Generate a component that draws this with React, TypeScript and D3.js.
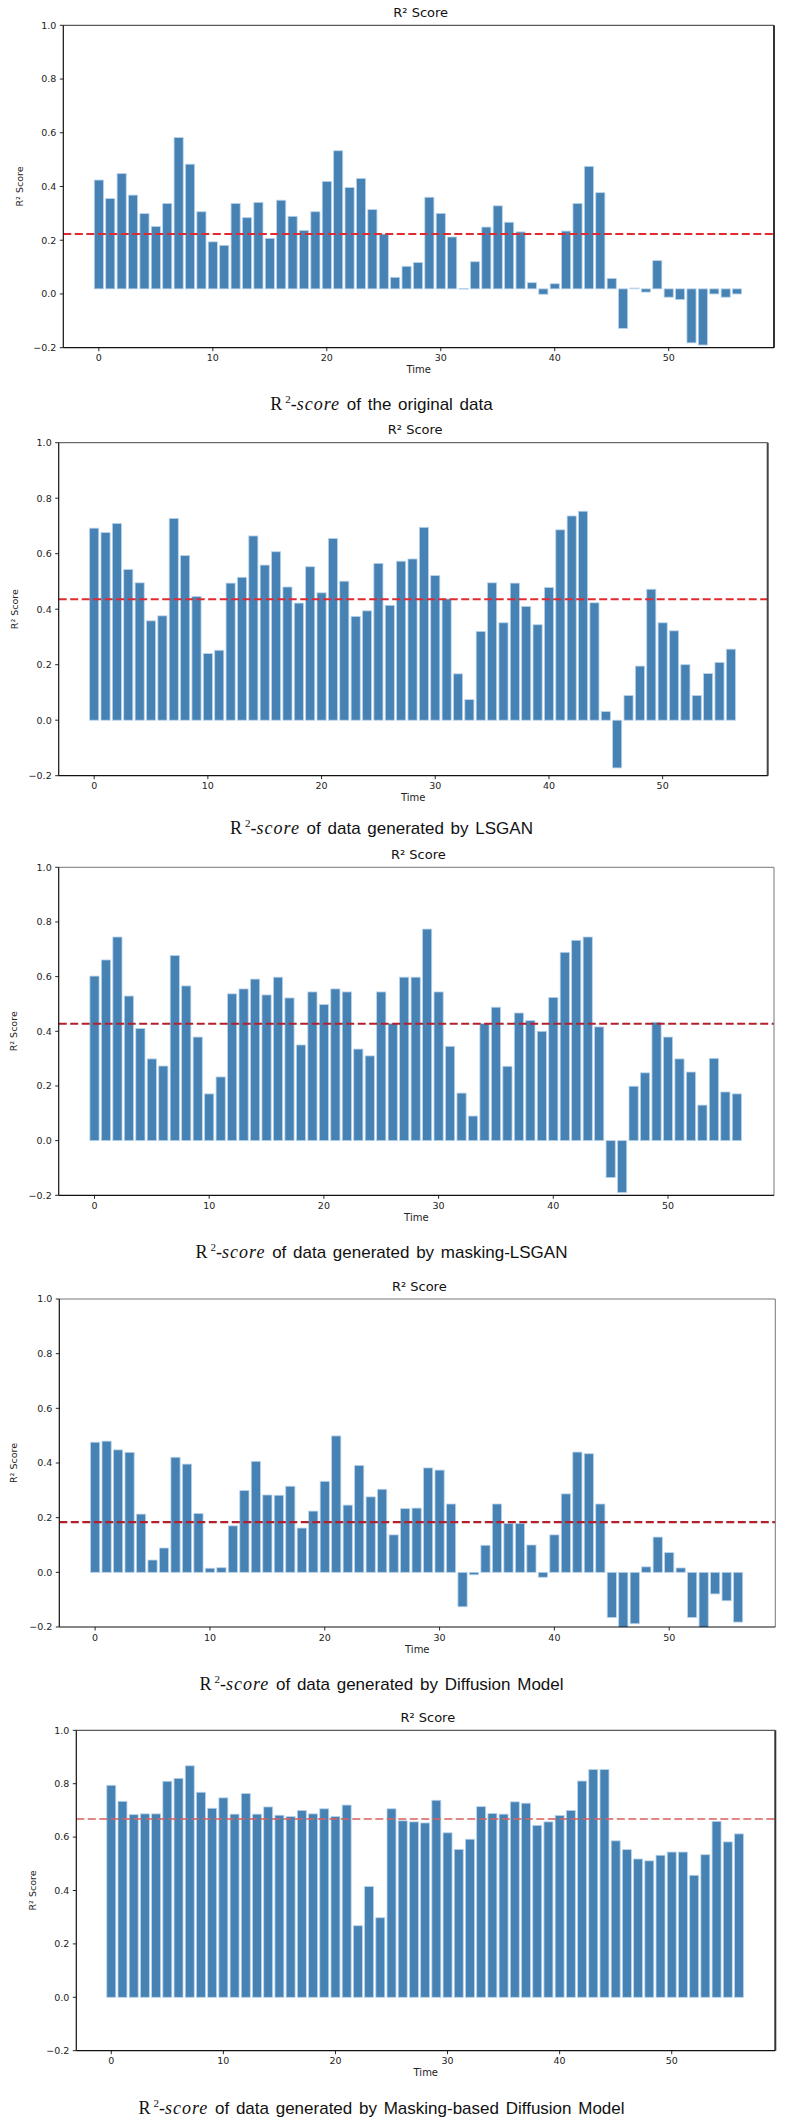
import React from "react";
import * as d3 from "d3";

// time steps 0..56
const timeSteps = d3.range(57);

const originalScores = [
  0.424, 0.355, 0.448, 0.368, 0.299, 0.251, 0.337, 0.582, 0.483, 0.306,
  0.194, 0.181, 0.337, 0.284, 0.341, 0.207, 0.349, 0.289, 0.236, 0.306,
  0.419, 0.533, 0.396, 0.43, 0.314, 0.223, 0.062, 0.103, 0.117, 0.36,
  0.3, 0.212, 0.021, 0.12, 0.249, 0.328, 0.267, 0.231, 0.042, -0.001,
  0.038, 0.234, 0.337, 0.475, 0.377, 0.058, -0.128, 0.022, 0.007, 0.124,
  -0.012, -0.021, -0.182, -0.19, 0.0, -0.012, 0.0,
];

const lsganScores = [
  0.692, 0.676, 0.709, 0.543, 0.495, 0.358, 0.376, 0.727, 0.593, 0.446,
  0.24, 0.252, 0.494, 0.515, 0.664, 0.559, 0.607, 0.48, 0.422, 0.553,
  0.459, 0.655, 0.501, 0.374, 0.394, 0.565, 0.414, 0.573, 0.581, 0.695,
  0.521, 0.437, 0.167, 0.074, 0.32, 0.495, 0.351, 0.494, 0.41, 0.344,
  0.478, 0.686, 0.736, 0.753, 0.423, 0.031, -0.172, 0.089, 0.195, 0.472,
  0.351, 0.322, 0.2, 0.089, 0.168, 0.208, 0.256,
];

const maskingLsganScores = [
  0.602, 0.661, 0.745, 0.529, 0.41, 0.299, 0.273, 0.677, 0.566, 0.379,
  0.171, 0.233, 0.537, 0.555, 0.591, 0.533, 0.598, 0.522, 0.35, 0.544,
  0.498, 0.555, 0.544, 0.335, 0.31, 0.544, 0.429, 0.598, 0.598, 0.774,
  0.544, 0.345, 0.174, 0.09, 0.428, 0.488, 0.272, 0.467, 0.439, 0.4,
  0.524, 0.689, 0.733, 0.745, 0.416, -0.135, -0.19, 0.199, 0.248, 0.433,
  0.379, 0.299, 0.251, 0.13, 0.301, 0.178, 0.171,
];

const diffusionScores = [
  0.476, 0.48, 0.448, 0.439, 0.213, 0.045, 0.089, 0.421, 0.396, 0.215,
  0.015, 0.017, 0.17, 0.299, 0.406, 0.283, 0.282, 0.315, 0.162, 0.224,
  0.333, 0.499, 0.246, 0.391, 0.276, 0.304, 0.137, 0.233, 0.235, 0.382,
  0.374, 0.25, -0.126, -0.009, 0.099, 0.25, 0.179, 0.179, 0.1, -0.018,
  0.137, 0.287, 0.44, 0.434, 0.25, -0.165, -0.205, -0.188, 0.02, 0.129,
  0.072, 0.016, -0.165, -0.202, -0.079, -0.104, -0.182,
];

const maskingDiffusionScores = [
  0.794, 0.734, 0.684, 0.687, 0.687, 0.809, 0.82, 0.867, 0.768, 0.708,
  0.747, 0.686, 0.763, 0.686, 0.713, 0.682, 0.677, 0.7, 0.687, 0.706,
  0.677, 0.72, 0.268, 0.415, 0.298, 0.706, 0.661, 0.657, 0.653, 0.738,
  0.616, 0.554, 0.592, 0.714, 0.688, 0.686, 0.732, 0.727, 0.644, 0.657,
  0.681, 0.7, 0.81, 0.853, 0.853, 0.586, 0.553, 0.518, 0.511, 0.532,
  0.544, 0.544, 0.457, 0.534, 0.659, 0.582, 0.612,
];

// dashed reference lines (mean R² of each run)
const meanLines = [0.223, 0.436, 0.428, 0.184, 0.668];

const captions = [
  "of the original data",
  "of data generated by LSGAN",
  "of data generated by masking-LSGAN",
  "of data generated by Diffusion Model",
  "of data generated by Masking-based Diffusion Model",
];

const yTicks = [-0.2, 0, 0.2, 0.4, 0.6, 0.8, 1.0];
const xTicks = [0, 10, 20, 30, 40, 50];

// layout of each panel on the page
const panels = [
  { data: originalScores, left: 63.3, right: 774, top: 25.3, bottom: 347.7, base: 0.019, labelX: 19.5, capY: 404, rightW: 2, frame: "#333", line: "#e02a30", lineW: 2 },
  { data: lsganScores, left: 58.7, right: 767.7, top: 442.7, bottom: 775.7, base: 0, labelX: 14.3, capY: 828, rightW: 2, frame: "#444", line: "#e02a30", lineW: 2 },
  { data: maskingLsganScores, left: 58.7, right: 774, top: 867.3, bottom: 1195.3, base: 0, labelX: 13.3, capY: 1251.7, rightW: 1, frame: "#777", line: "#b3202c", lineW: 2 },
  { data: diffusionScores, left: 59.3, right: 775.3, top: 1299, bottom: 1627, base: 0, labelX: 14, capY: 1684, rightW: 1, frame: "#777", line: "#b3202c", lineW: 2.2 },
  { data: maskingDiffusionScores, left: 76.3, right: 775.3, top: 1730.3, bottom: 2050.7, base: 0, labelX: 33, capY: 2108, rightW: 2, frame: "#333", line: "#d9605c", lineW: 1.6 },
];

const mplFont = "'DejaVu Sans', Verdana, sans-serif";
const fmtY = (v: number) => (v < 0 ? "\u2212" : "") + Math.abs(v).toFixed(1);

const Panel: React.FC<{ idx: number }> = ({ idx }) => {
  const p = panels[idx];
  const x = d3.scaleLinear().domain([-3.12, 59.24]).range([p.left, p.right]);
  const y = d3.scaleLinear().domain([-0.2, 1.0]).range([p.bottom, p.top]);
  const bw = x(0.8) - x(0);
  const clipId = `clip-${idx}`;
  const midX = (p.left + p.right) / 2;

  return (
    <g>
      <defs>
        <clipPath id={clipId}>
          <rect x={p.left} y={p.top} width={p.right - p.left} height={p.bottom - p.top} />
        </clipPath>
      </defs>
      <text x={midX + 2} y={p.top - 8.5} textAnchor="middle" fontFamily={mplFont} fontSize={13} fill="#111">
        R² Score
      </text>
      <g clipPath={`url(#${clipId})`}>
        {timeSteps.map((t) => {
          const v = p.data[t];
          const y0 = y(p.base);
          const y1 = y(v);
          return (
            <rect
              key={t}
              x={x(t) - bw / 2}
              y={Math.min(y0, y1)}
              width={bw}
              height={Math.max(Math.abs(y1 - y0), 0.8)}
              fill="#4682b4"
              stroke="#b9d3ea"
              strokeWidth={0.8}
            />
          );
        })}
        <line
          x1={p.left}
          x2={p.right}
          y1={y(meanLines[idx])}
          y2={y(meanLines[idx])}
          stroke={p.line}
          strokeWidth={p.lineW}
          strokeDasharray="8,3.5"
        />
      </g>
      {/* frame */}
      <line x1={p.left} x2={p.right} y1={p.top} y2={p.top} stroke={p.frame} strokeWidth={1} />
      <line x1={p.right} x2={p.right} y1={p.top} y2={p.bottom} stroke={p.frame} strokeWidth={p.rightW} />
      <line x1={p.left} x2={p.left} y1={p.top} y2={p.bottom} stroke="#111" strokeWidth={1.2} />
      <line x1={p.left} x2={p.right} y1={p.bottom} y2={p.bottom} stroke="#111" strokeWidth={1.2} />
      {/* y axis */}
      {yTicks.map((t) => (
        <g key={t}>
          <line x1={p.left - 3.5} x2={p.left} y1={y(t)} y2={y(t)} stroke="#111" strokeWidth={0.9} />
          <text x={p.left - 7} y={y(t)} dy="0.35em" textAnchor="end" fontFamily={mplFont} fontSize={9.5} fill="#222">
            {fmtY(t)}
          </text>
        </g>
      ))}
      {/* x axis */}
      {xTicks.map((t) => (
        <g key={t}>
          <line x1={x(t)} x2={x(t)} y1={p.bottom} y2={p.bottom + 3.5} stroke="#111" strokeWidth={0.9} />
          <text x={x(t)} y={p.bottom + 13.5} textAnchor="middle" fontFamily={mplFont} fontSize={9.5} fill="#222">
            {t}
          </text>
        </g>
      ))}
      <text x={midX} y={p.bottom + 25.5} textAnchor="middle" fontFamily={mplFont} fontSize={10} fill="#222">
        Time
      </text>
      <text
        transform={`translate(${p.labelX},${(p.top + p.bottom) / 2}) rotate(-90)`}
        textAnchor="middle"
        dy="0.35em"
        fontFamily={mplFont}
        fontSize={9.5}
        fill="#222"
      >
        R² Score
      </text>
      {/* caption */}
      <text x={381.5} y={p.capY + 6} textAnchor="middle" fontSize={17} fill="#111" wordSpacing={2}>
        <tspan fontFamily="'Liberation Serif', 'Times New Roman', serif" fontSize={18}>R</tspan>
        <tspan fontFamily="'Liberation Serif', 'Times New Roman', serif" fontSize={11} dx={3} dy={-7}>2</tspan>
        <tspan fontFamily="'Liberation Serif', 'Times New Roman', serif" fontSize={18} dy={7}>-</tspan>
        <tspan fontFamily="'Liberation Serif', 'Times New Roman', serif" fontSize={18} fontStyle="italic" letterSpacing={1}>score</tspan>
        <tspan fontFamily="'Liberation Sans', Arial, sans-serif" fontSize={17}>{" " + captions[idx]}</tspan>
      </text>
    </g>
  );
};

const App: React.FC = () => {
  return (
    <svg
      width={788}
      height={2120}
      style={{ position: "absolute", left: 0, top: 0, background: "#fff" }}
    >
      <rect width={788} height={2120} fill="#fff" />
      {panels.map((_, i) => (
        <Panel key={i} idx={i} />
      ))}
    </svg>
  );
};

export default App;
